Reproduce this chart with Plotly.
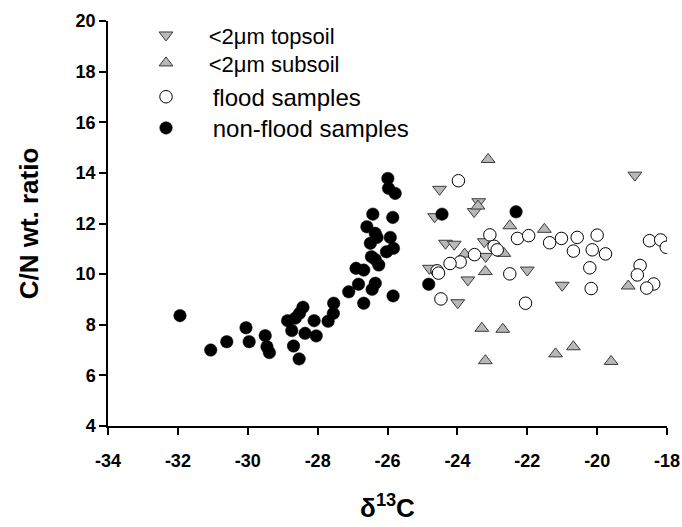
import plotly.graph_objects as go

# <2um topsoil (down triangles)
top_x = [-24.51, -23.39, -23.52, -24.65, -24.34, -24.09, -23.23, -23.19, -24.80, -23.70, -23.99, -22.00, -21.00, -18.92]
top_y = [13.35, 12.86, 12.47, 12.27, 11.22, 11.18, 11.28, 10.70, 10.23, 9.77, 8.87, 10.16, 9.56, 13.91]

# <2um subsoil (up triangles)
sub_x = [-23.12, -23.41, -23.79, -22.67, -22.50, -21.51, -23.20, -19.11, -23.30, -22.70, -23.20, -21.19, -20.68, -19.60]
sub_y = [14.53, 12.69, 10.79, 10.82, 11.91, 11.77, 10.10, 9.53, 7.86, 7.82, 6.58, 6.85, 7.13, 6.55]

# flood samples (open circles)
flood_x = [-23.97, -23.07, -22.95, -22.86, -23.51, -23.92, -24.21, -24.58, -24.54, -22.50, -24.47,
           -22.28, -21.96, -21.36, -21.02, -20.68, -20.57, -20.14, -20.00, -19.76, -18.50, -18.18,
           -18.02, -20.21, -18.77, -18.85, -18.38, -18.58, -20.17, -22.05]
flood_y = [13.69, 11.55, 11.10, 10.96, 10.77, 10.48, 10.42, 10.13, 10.04, 10.01, 9.02,
           11.41, 11.52, 11.24, 11.41, 10.91, 11.45, 10.96, 11.54, 10.80, 11.32, 11.35,
           11.06, 10.25, 10.34, 9.97, 9.61, 9.45, 9.43, 8.85]

# non-flood samples (filled circles)
nonflood_x = [-31.94, -31.06, -30.60, -30.05, -29.96, -29.50, -29.45, -29.38, -28.86, -28.64, -28.42,
              -28.52, -28.74, -28.36, -28.69, -28.53, -28.10, -28.04, -27.70, -27.55, -27.54, -27.11,
              -26.90, -26.83, -26.68, -25.99, -25.97, -25.78, -26.42, -25.85, -26.59, -26.35, -26.30,
              -25.92, -26.49, -25.83, -26.03, -26.46, -26.35, -26.25, -26.68, -26.35, -26.44, -25.84,
              -24.82, -24.44, -22.32]
nonflood_y = [8.36, 7.00, 7.33, 7.88, 7.33, 7.57, 7.13, 6.90, 8.16, 8.26, 8.69,
              8.45, 7.77, 7.66, 7.16, 6.65, 8.16, 7.56, 8.14, 8.45, 8.85, 9.30,
              10.23, 9.60, 8.85, 13.78, 13.39, 13.19, 12.37, 12.24, 11.87, 11.61, 11.45,
              11.45, 11.22, 11.02, 10.88, 10.69, 10.58, 10.36, 10.16, 9.64, 9.40, 9.14,
              9.60, 12.37, 12.46]

x_ticks = [-34, -32, -30, -28, -26, -24, -22, -20, -18]
y_ticks = [4, 6, 8, 10, 12, 14, 16, 18, 20]

FONT = "Arial, Liberation Sans, sans-serif"
NB = "\u00a0"
TH = "\u2009"

fig = go.Figure()
fig.add_trace(go.Scatter(
    x=top_x, y=top_y, mode="markers", name=NB * 3 + TH + "&lt;2\u03bcm topsoil", showlegend=True,
    marker=dict(symbol="triangle-down", size=12, color="#b8b8b8", line=dict(color="#3a3a3a", width=1)),
    legend="legend"))
fig.add_trace(go.Scatter(
    x=sub_x, y=sub_y, mode="markers", name=NB * 3 + TH + "&lt;2\u03bcm subsoil", showlegend=True,
    marker=dict(symbol="triangle-up", size=12, color="#b8b8b8", line=dict(color="#3a3a3a", width=1)),
    legend="legend2"))
fig.add_trace(go.Scatter(
    x=flood_x, y=flood_y, mode="markers", name=NB * 4 + "flood samples", showlegend=True,
    marker=dict(symbol="circle", size=12.5, color="white", line=dict(color="black", width=1)),
    legend="legend3"))
fig.add_trace(go.Scatter(
    x=nonflood_x, y=nonflood_y, mode="markers", name=NB * 4 + "non-flood samples", showlegend=True,
    marker=dict(symbol="circle", size=12.5, color="black", line=dict(color="black", width=0.5)),
    legend="legend4"))

def leg(y, size):
    return dict(x=0.068, y=y, xanchor="left", yanchor="middle", bgcolor="rgba(0,0,0,0)",
                borderwidth=0, font=dict(family=FONT, size=size, color="black"))

fig.update_layout(
    width=682, height=527,
    margin=dict(l=108, r=15, t=21, b=101, autoexpand=False),
    paper_bgcolor="white", plot_bgcolor="white",
    font=dict(family=FONT, color="black"),
    showlegend=True,
    legend=leg(0.965, 22),
    legend2=leg(0.896, 22),
    legend3=leg(0.812, 24),
    legend4=leg(0.735, 24),
    xaxis=dict(
        range=[-34, -18], tickvals=x_ticks, ticktext=[str(v) for v in x_ticks],
        showgrid=False, zeroline=False, showline=True, linecolor="black", linewidth=1.5,
        ticks="outside", ticklen=7, tickwidth=1.5, tickcolor="black", automargin=False,
        tickfont=dict(family=FONT, size=18, color="black", weight="bold"), ticklabelstandoff=11,
        title=dict(text="\u03b4<sup>13</sup>C", font=dict(family=FONT, size=26, color="black", weight="bold"), standoff=28),
    ),
    yaxis=dict(
        range=[4, 20], tickvals=y_ticks, ticktext=[str(v) for v in y_ticks],
        showgrid=False, zeroline=False, showline=True, linecolor="black", linewidth=1.5,
        ticks="outside", ticklen=7, tickwidth=1.5, tickcolor="black", automargin=False,
        tickfont=dict(family=FONT, size=18, color="black", weight="bold"),
        title=dict(text="C/N wt. ratio", font=dict(family=FONT, size=26, color="black", weight="bold"), standoff=30),
    ),
)

fig.write_html("out.html", config={"displayModeBar": False},
               post_script="document.body.style.margin='0';")
